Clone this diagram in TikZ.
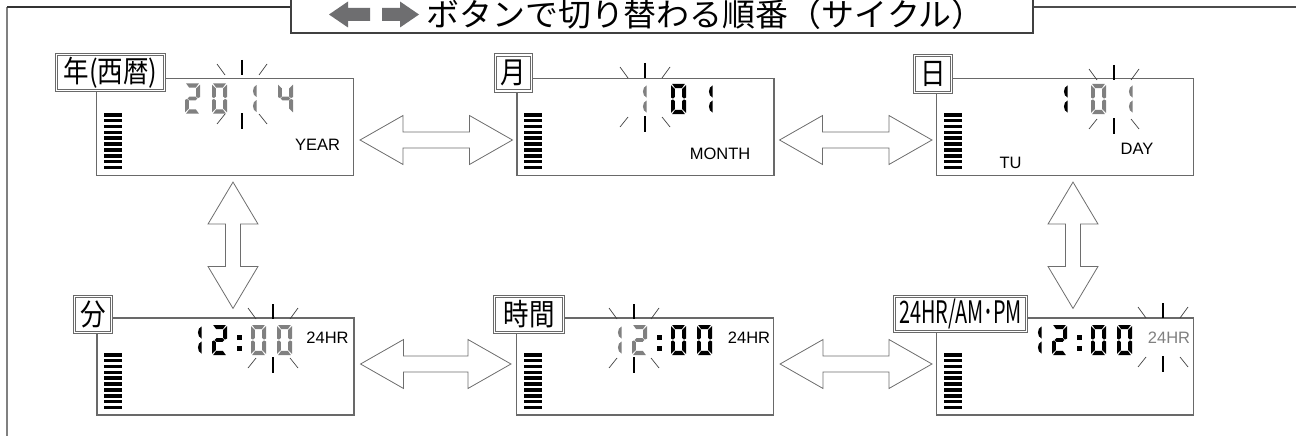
\documentclass[tikz,border=0pt]{standalone}
\usepackage{fontspec}
\newfontfamily\jp[FakeStretch=1.03]{Noto Sans CJK JP}
\newfontfamily\jpn[FakeStretch=0.85]{Noto Sans CJK JP}
\newfontfamily\jpc[FakeStretch=0.64]{Noto Sans CJK JP}
\newfontfamily\lcdfont{Liberation Sans}
\usetikzlibrary{calc}
\definecolor{lcdgray}{RGB}{128,128,128}
\definecolor{linegray}{RGB}{105,105,105}
\definecolor{arrowgray}{RGB}{110,110,110}
\definecolor{icongray}{RGB}{110,110,112}

% seven segment pieces (digit box 15 x 30, y downwards)
\newcommand\SA{\fill (1.2,0) -- (13.8,0) -- (10.8,4.2) -- (4.2,4.2) -- cycle;}
\newcommand\SB{\fill (15,1.2) -- (11.2,4.8) -- (11.2,13) -- (13,14.6) -- (15,13.6) -- cycle;}
\newcommand\SC{\fill (15,28.8) -- (11.2,25.2) -- (11.2,17) -- (13,15.4) -- (15,16.4) -- cycle;}
\newcommand\SD{\fill (1.2,30) -- (13.8,30) -- (10.8,25.8) -- (4.2,25.8) -- cycle;}
\newcommand\SE{\fill (0,28.8) -- (3.8,25.2) -- (3.8,17) -- (2,15.4) -- (0,16.4) -- cycle;}
\newcommand\SF{\fill (0,1.2) -- (3.8,4.8) -- (3.8,13) -- (2,14.6) -- (0,13.6) -- cycle;}
\newcommand\SG{\fill (2.6,15) -- (4.4,13.1) -- (10.6,13.1) -- (12.4,15) -- (10.6,16.9) -- (4.4,16.9) -- cycle;}
\newcommand\SONE{\fill (5,1.5) -- (5,13.5) .. controls (0.3,12) and (0.3,3) .. (5,1.5) -- cycle;
  \fill (5,16.5) -- (5,28.5) .. controls (0.3,27) and (0.3,18) .. (5,16.5) -- cycle;}
\newcommand\SCOLON{\fill (0,9.5) rectangle (5,14.5); \fill (0,20.5) rectangle (5,25.5);}
\newcommand\DZERO{\SA\SB\SC\SD\SE\SF}
\newcommand\DTWO{\SA\SB\SG\SE\SD}
\newcommand\DFOUR{\SF\SG\SB\SC}
\newcommand\dg[4]{\begin{scope}[shift={(#1,#2)},color=#3]#4\end{scope}}
\newcommand\blink[2]{\begin{scope}[shift={(#1,#2)}]
  \draw[line width=1.1pt] (0,-34) -- (0,-19) (0,19) -- (0,35);
  \draw[line width=0.7pt, black!75] (-17,-19) -- (-25,-30) (17,-19) -- (25,-30)
     (-17,20) -- (-25,30) (17,20) -- (25,30);
  \end{scope}}
\newcommand\bars[2]{\foreach \i in {0,...,9} {\fill (#1,#2+\i*5.85) rectangle ++(18,3.6);}}

\begin{document}
\begin{tikzpicture}[x=1pt,y=-1pt,
  panel/.style={draw=linegray, line width=1.1pt, minimum width=257pt, minimum height=97pt, inner sep=0pt},
  lbl/.style={draw=linegray, double=white, line width=0.75pt, double distance=1.6pt, fill=white,
     inner sep=0pt, font=\jpn\fontsize{30}{30}\selectfont},
  lcdtext/.style={inner sep=0pt, font=\lcdfont\fontsize{16.5}{16.5}\selectfont},
  blockarrow/.style={draw=arrowgray, line width=0.8pt, fill=white, line join=miter}]
\useasboundingbox (0,0) rectangle (1296,436);

% outer frame
\draw[line width=1.2pt, gray] (7,436) -- (7,7);
\draw[line width=1.2pt, black!80] (7,7) -- (291,7);
\draw[line width=1.2pt, black!70] (1033,7) -- (1296,7);

% title
\node[draw=black!75, line width=1.1pt, fill=white, minimum width=742pt, minimum height=53pt, inner sep=0pt] (tbox) at (662,6.5) {};
\fill[icongray] (329,14.5) -- (348,1.5) -- (348,8) -- (370,8) -- (370,21) -- (348,21) -- (348,27.5) -- cycle;
\fill[icongray] (419,14.5) -- (400,1.5) -- (400,8) -- (382,8) -- (382,21) -- (400,21) -- (400,27.5) -- cycle;
\node[anchor=west, inner sep=0pt, font=\jp\fontsize{32}{32}\selectfont] (ttext) at (426,14.5) {ボタンで切り替わる順番（サイクル）};

% panels
\node[panel] (p1) at (225,127) {};
\node[panel] (p2) at (645.5,127) {};
\node[panel] (p3) at (1065,127) {};
\node[panel] (p4) at (225.5,366.5) {};
\node[panel] (p5) at (645,366.5) {};
\node[panel] (p6) at (1065,366.5) {};

% block arrows
\coordinate (h1a) at ($(p1.east)+(6,13)$);
\coordinate (h1b) at ($(p2.west)+(-4,13)$);
\coordinate (h2a) at ($(p2.east)+(5,13)$);
\coordinate (h2b) at ($(p3.west)+(-4,13)$);
\coordinate (h3a) at ($(p4.east)+(6,-2.5)$);
\coordinate (h3b) at ($(p5.west)+(-5,-2.5)$);
\coordinate (h4a) at ($(p5.east)+(6,-2.5)$);
\coordinate (h4b) at ($(p6.west)+(-4,-2.5)$);
\coordinate (v1a) at ($(p1.south)+(8,6)$);
\coordinate (v1b) at ($(p4.north)+(7.5,-9)$);
\coordinate (v2a) at ($(p3.south)+(8,6)$);
\coordinate (v2b) at ($(p6.north)+(8,-9)$);
\foreach \a/\b in {h1a/h1b,h2a/h2b,h3a/h3b,h4a/h4b}{
  \draw[blockarrow] let \p1=(\a), \p2=(\b) in
   (\p1) -- (\x1+43pt,\y1+24.5pt) -- (\x1+43pt,\y1+8pt) -- (\x2-43pt,\y1+8pt) -- (\x2-43pt,\y1+24.5pt)
   -- (\x2,\y1) -- (\x2-43pt,\y1-24.5pt) -- (\x2-43pt,\y1-8pt) -- (\x1+43pt,\y1-8pt) -- (\x1+43pt,\y1-24.5pt) -- cycle;
}
\foreach \a/\b in {v1a/v1b,v2a/v2b}{
  \draw[blockarrow] let \p1=(\a), \p2=(\b) in
   (\p1) -- (\x1-25pt,\y1-42pt) -- (\x1-7.5pt,\y1-42pt) -- (\x1-7.5pt,\y2+42pt) -- (\x1-25pt,\y2+42pt)
   -- (\x1,\y2) -- (\x1+25pt,\y2+42pt) -- (\x1+7.5pt,\y2+42pt) -- (\x1+7.5pt,\y1-42pt) -- (\x1+25pt,\y1-42pt) -- cycle;
}

% bars
\bars{104}{113}
\bars{524}{113}
\bars{944}{113}
\bars{104}{353}
\bars{524}{353}
\bars{944}{353}

% panel 1: year
\dg{185}{83.5}{lcdgray}{\DTWO}
\dg{212}{83.5}{lcdgray}{\DZERO}
\dg{251.5}{83.5}{lcdgray}{\SONE}
\dg{278}{83.5}{lcdgray}{\DFOUR}
\blink{242}{94}
\node[lcdtext] (t1) at (317.5,145) {YEAR};

% panel 2: month
\dg{641.5}{84}{lcdgray}{\SONE}
\dg{671}{84}{black}{\DZERO}
\dg{707.5}{84}{black}{\SONE}
\blink{645}{97}
\node[lcdtext] (t2) at (720,154) {MONTH};

% panel 3: day
\dg{1062.5}{84}{black}{\SONE}
\dg{1091}{84}{lcdgray}{\DZERO}
\dg{1127.5}{84}{lcdgray}{\SONE}
\blink{1114}{99}
\node[lcdtext] (t3) at (1137,149) {DAY};
\node[lcdtext] (t3b) at (1010.5,163) {TU};

% panel 4: minutes
\dg{196.5}{325}{black}{\SONE}
\dg{212}{325}{black}{\DTWO}
\dg{237}{325}{black}{\SCOLON}
\dg{251}{325}{lcdgray}{\DZERO}
\dg{277}{325}{lcdgray}{\DZERO}
\blink{273}{338}
\node[lcdtext] (t4) at (327.5,337.5) {24HR};

% panel 5: hours
\dg{616.5}{325}{lcdgray}{\SONE}
\dg{632}{325}{lcdgray}{\DTWO}
\dg{657}{325}{black}{\SCOLON}
\dg{671}{325}{black}{\DZERO}
\dg{697}{325}{black}{\DZERO}
\blink{634}{338}
\node[lcdtext] (t5) at (749,337.5) {24HR};

% panel 6: 24HR / AM-PM
\dg{1036.5}{325}{black}{\SONE}
\dg{1052}{325}{black}{\DTWO}
\dg{1077}{325}{black}{\SCOLON}
\dg{1091}{325}{black}{\DZERO}
\dg{1117}{325}{black}{\DZERO}
\blink{1163}{337}
\node[lcdtext, text=lcdgray] (t6) at (1169,337.5) {24HR};

% labels
\node[lbl, minimum width=108pt, minimum height=36pt] (l1) at (110.5,72.5) {年(西暦)};
\node[lbl, minimum width=36pt, minimum height=36pt] (l2) at (513.5,73) {月};
\node[lbl, minimum width=37pt, minimum height=37pt] (l3) at (933,74) {日};
\node[lbl, minimum width=37pt, minimum height=36pt] (l4) at (93,314.5) {分};
\node[lbl, minimum width=69pt, minimum height=36pt] (l5) at (529,314.5) {時間};
\node[lbl, minimum width=132pt, minimum height=35pt, font=\jpc\fontsize{31}{31}\selectfont] (l6) at (960.5,314) {24HR/AM･PM};
\end{tikzpicture}
\end{document}
